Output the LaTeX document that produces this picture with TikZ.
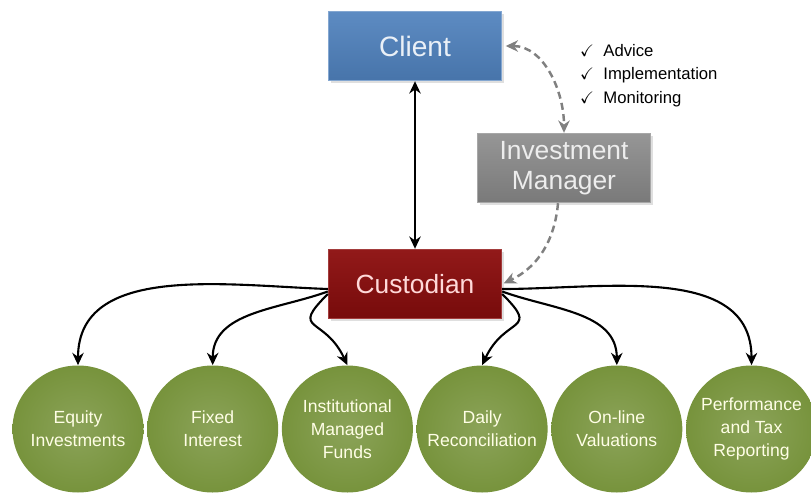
\documentclass[tikz,border=0pt]{standalone}
\usepackage{fontspec}
\setmainfont{Liberation Sans}
\usepackage{amssymb}
\usepackage{xcolor}
\usepackage{tikz}
\usetikzlibrary{shapes,arrows.meta,positioning,calc,shadows}

\definecolor{clientblue}{HTML}{4F81BD}
\definecolor{managergrey}{HTML}{8A8A8A}
\definecolor{custodyred}{HTML}{8C0D0D}
\definecolor{fundgreen}{HTML}{77933C}

\begin{document}
\begin{tikzpicture}[
    node distance=0.06cm,
    block/.style={rectangle, minimum width=3.46cm, minimum height=1.38cm, align=center, line width=0.8pt,
        font=\fontsize{15}{17}\selectfont, drop shadow={opacity=0.25, shadow xshift=1.2pt, shadow yshift=-1.2pt}},
    clientbox/.style={block, draw=clientblue!70!white, top color=clientblue!92!white, bottom color=clientblue!90!black, text=white!88!clientblue},
    managerbox/.style={block, draw=managergrey!75!white, top color=managergrey!90!white, bottom color=managergrey!88!black, text=white!93!black},
    custodybox/.style={block, draw=custodyred!80!white, top color=custodyred!95!white, bottom color=custodyred!85!black, text=white!85!red},
    service/.style={ellipse, minimum width=2.62cm, minimum height=2.54cm, inner sep=0pt,
        inner color=fundgreen!85!white, outer color=fundgreen},
    servicetext/.style={align=center, text=white!90!yellow, font=\fontsize{10}{13}\selectfont},
    arrow/.style={->, line width=1.2pt, >={Stealth[length=7pt,width=6.5pt]}},
    dasharrow/.style={->, draw=black!50, line width=1.4pt, >={Stealth[length=7pt,width=6.5pt]}, dash pattern=on 4pt off 2.5pt}
]
    \useasboundingbox (0,0) rectangle (16.22,9.92);

    % Nodes
    \node[clientbox, font=\fontsize{16}{18}\selectfont] (client) at (8.30,9.00) {Client};
    \node[managerbox] (manager) at (11.28,6.56) {Investment\\Manager};
    \node[custodybox] (custodian) at (8.30,4.24) {Custodian};
    \node[anchor=north west, align=left, font=\fontsize{9.5}{13.3}\selectfont] (tasks) at (11.48,9.16)
        {$\checkmark$\ \ Advice\\ $\checkmark$\ \ Implementation\\ $\checkmark$\ \ Monitoring};

    \node[service, label={[servicetext]center:Equity\\Investments}] (equity) at (1.56,1.34) {};
    \node[service, right=of equity, label={[servicetext]center:Fixed\\Interest}] (fixed) {};
    \node[service, right=of fixed, label={[servicetext]center:Institutional\\Managed\\Funds}] (funds) {};
    \node[service, right=of funds, label={[servicetext]center:Daily\\Reconciliation}] (daily) {};
    \node[service, right=of daily, label={[servicetext]center:On-line\\Valuations}] (online) {};
    \node[service, right=of online, label={[servicetext]center:Performance\\and Tax\\Reporting}] (reporting) {};

    % Arrows
    \draw[arrow, <->] (client) -- (custodian);
    \draw[dasharrow, <->, shorten <=2pt] (client.east) to[out=0,in=90] (manager.north);
    \draw[dasharrow, shorten >=1pt] ([xshift=-0.12cm]manager.south) to[out=-95,in=25] (custodian.east);

    \draw[arrow] ([yshift=-0.10cm]custodian.west) to[out=178,in=90] (equity.north);
    \draw[arrow] ([yshift=-0.15cm]custodian.west) to[out=200,in=90] (fixed.north);
    \draw[arrow] ([yshift=-0.20cm]custodian.west) to[out=225,in=115,looseness=1.9] (funds.north);
    \draw[arrow] ([yshift=-0.20cm]custodian.east) to[out=-45,in=65,looseness=1.9] (daily.north);
    \draw[arrow] ([yshift=-0.15cm]custodian.east) to[out=-20,in=90] (online.north);
    \draw[arrow] ([yshift=-0.10cm]custodian.east) to[out=0,in=90] (reporting.north);
\end{tikzpicture}
\end{document}
